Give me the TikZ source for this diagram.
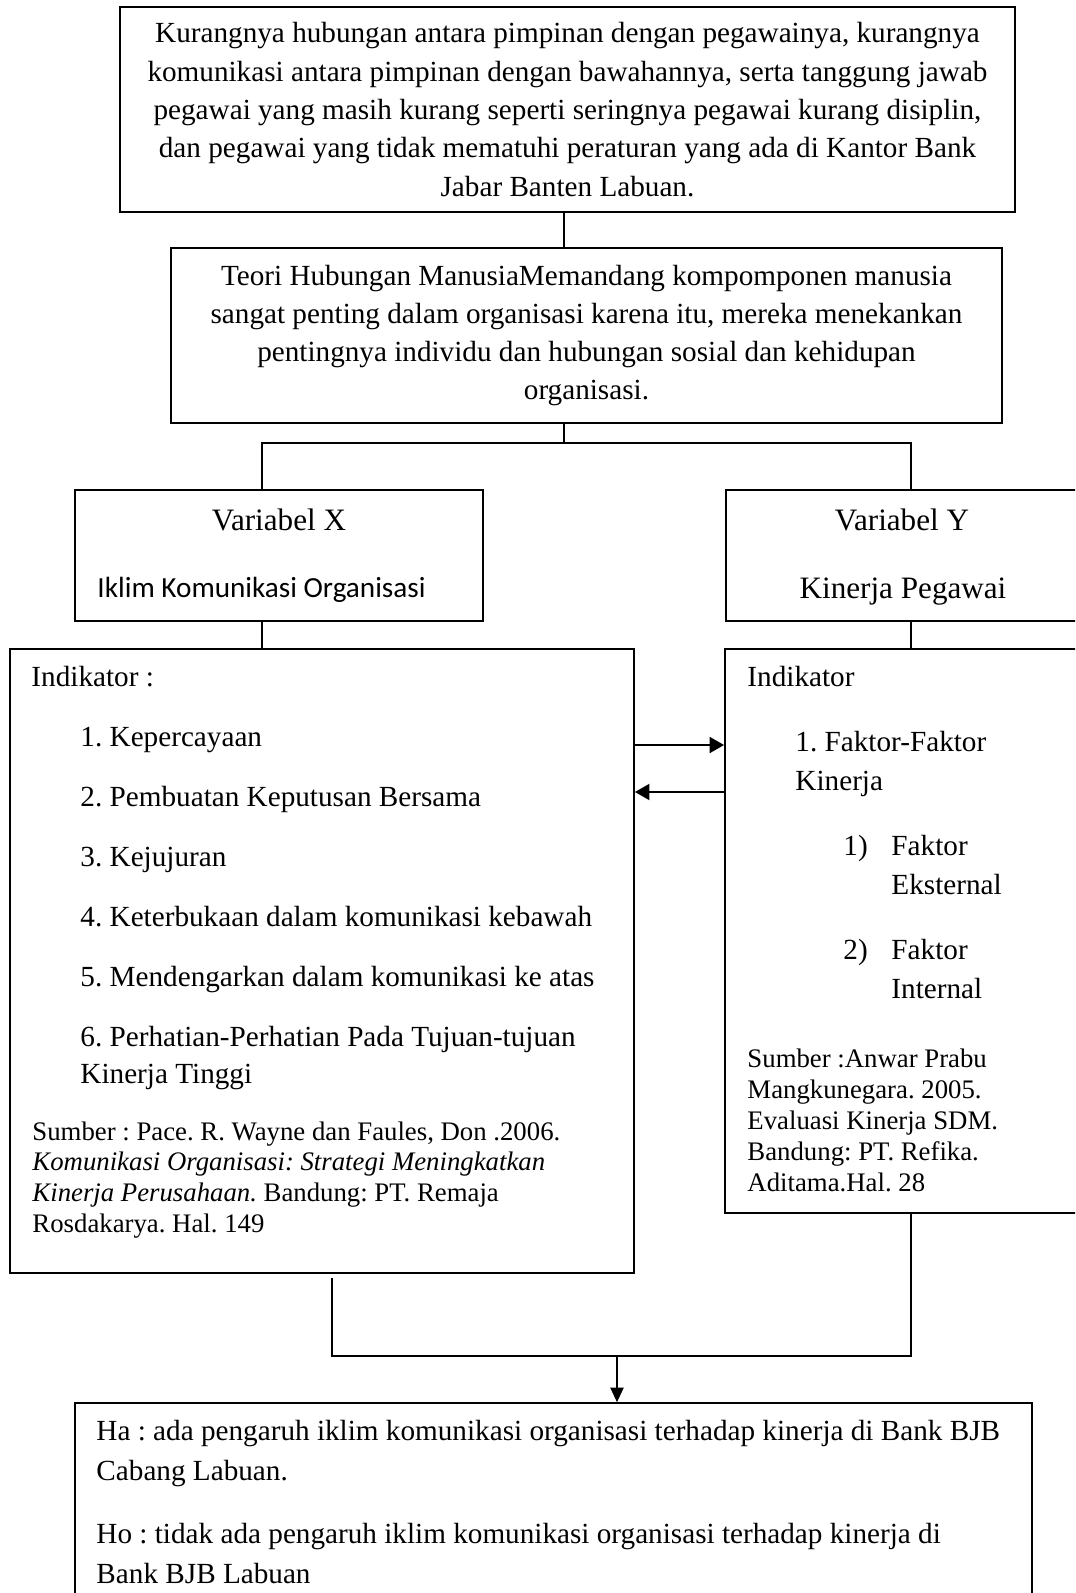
\documentclass[tikz,border=0pt]{standalone}
\usepackage{fontspec}
\setmainfont{Liberation Serif}
\newfontfamily\calibrifont{Carlito}
\frenchspacing
\usetikzlibrary{positioning,arrows.meta}
\newcommand{\pix}[1]{#1*0.411pt}
\tikzstyle{kotak} = [draw, rectangle, line width=0.7pt, inner sep=0pt]
\tikzstyle{garis} = [draw, line width=0.5pt]
\tikzstyle{panah} = [draw, line width=1.1pt, -{Triangle[length=6pt,width=6.5pt]}]
\tikzstyle{teks} = [anchor=base west, inner sep=0pt, font=\fontsize{12}{14}\selectfont]
\tikzstyle{sumber} = [teks, font=\fontsize{11}{13}\selectfont]
\tikzstyle{judul} = [anchor=base, inner sep=0pt, font=\fontsize{12.8}{15}\selectfont]

\begin{document}
\begin{tikzpicture}[x=0.411pt, y=-0.411pt]
  \useasboundingbox (0,0) rectangle (1075,1593);
  \clip (0,0) rectangle (1075,1593);

  % kotak atas
  \node[kotak, minimum width=\pix{895}, minimum height=\pix{205}, align=center,
        font=\fontsize{12}{15.74}\selectfont] (masalah) at (567.5,109.5)
        {Kurangnya hubungan antara pimpinan dengan pegawainya, kurangnya\\
         komunikasi antara pimpinan dengan bawahannya, serta tanggung jawab\\
         pegawai yang masih kurang seperti seringnya pegawai kurang disiplin,\\
         dan pegawai yang tidak mematuhi peraturan yang ada di Kantor Bank\\
         Jabar Banten Labuan.};
  \node[kotak, minimum width=\pix{831}, minimum height=\pix{175}, align=center,
        font=\fontsize{12}{15.74}\selectfont] (teori) at (586.5,335.5)
        {Teori Hubungan ManusiaMemandang kompomponen manusia\\
         sangat penting dalam organisasi karena itu, mereka menekankan\\
         pentingnya individu dan hubungan sosial dan kehidupan\\
         organisasi.};

  % variabel
  \node[kotak, minimum width=\pix{408}, minimum height=\pix{131}] (varx) at (279,555.5) {};
  \node[kotak, minimum width=\pix{354}, minimum height=\pix{131}] (vary) at (903,555.5) {};
  \node[judul] (varxjudul) at (279,530) {Variabel X};
  \node[teks, font=\calibrifont\fontsize{12}{14}\selectfont] (varxnama) at (97,597) {Iklim Komunikasi Organisasi};
  \node[judul] (varyjudul) at (902,530) {Variabel Y};
  \node[judul] (varynama) at (903,598) {Kinerja Pegawai};

  % indikator
  \node[kotak, minimum width=\pix{624}, minimum height=\pix{624}] (indx) at (322,961) {};
  \node[kotak, minimum width=\pix{355}, minimum height=\pix{564}] (indy) at (902.5,931) {};

  \node[teks] (indxjudul) at (31,686) {Indikator :};
  \foreach \i/\isi in {1/Kepercayaan, 2/Pembuatan Keputusan Bersama, 3/Kejujuran,
                       4/Keterbukaan dalam komunikasi kebawah,
                       5/Mendengarkan dalam komunikasi ke atas,
                       6/Perhatian-Perhatian Pada Tujuan-tujuan}
    \node[teks] (butirx\i) at (80,{746+60*(\i-1)}) {\i. \isi};
  \node[teks] (butirx6b) at (80,1083) {Kinerja Tinggi};
  \node[sumber] (srcx1) at (32,1140) {Sumber : Pace. R. Wayne dan Faules, Don .2006.};
  \node[sumber] (srcx2) at (32,1170.7) {\textit{Komunikasi Organisasi: Strategi Meningkatkan}};
  \node[sumber] (srcx3) at (32,1201.4) {\textit{Kinerja Perusahaan.} Bandung: PT. Remaja};
  \node[sumber] (srcx4) at (32,1232) {Rosdakarya. Hal. 149};

  \node[teks] (indyjudul) at (747,686) {Indikator};
  \node[teks] (butiry1) at (795,751) {1. Faktor-Faktor};
  \node[teks] (butiry1b) at (795,790) {Kinerja};
  \node[teks] (nomor1) at (843,855) {1)};
  \node[teks] (faktor1) at (891,855) {Faktor};
  \node[teks] (faktor1b) at (891,894) {Eksternal};
  \node[teks] (nomor2) at (843,959) {2)};
  \node[teks] (faktor2) at (891,959) {Faktor};
  \node[teks] (faktor2b) at (891,998) {Internal};
  \foreach \k/\isi in {0/Sumber :Anwar Prabu, 1/Mangkunegara. 2005., 2/Evaluasi Kinerja SDM.,
                       3/Bandung: PT. Refika., 4/Aditama.Hal. 28}
    \node[sumber] (srcy\k) at (747,{1067+31*\k}) {\isi};

  % hipotesis
  \node[kotak, minimum width=\pix{957}, minimum height=\pix{237}] (hipotesis) at (553.5,1521.5) {};
  \node[teks] (ha) at (96,1440) {Ha : ada pengaruh iklim komunikasi organisasi terhadap kinerja di Bank BJB};
  \node[teks] (hab) at (96,1480) {Cabang Labuan.};
  \node[teks] (ho) at (96,1543) {Ho : tidak ada pengaruh iklim komunikasi organisasi terhadap kinerja di};
  \node[teks] (hob) at (96,1583) {Bank BJB Labuan};

  % garis penghubung
  \coordinate (cabang) at (564,443);
  \coordinate (kiri) at (262,443);
  \coordinate (kanan) at (911,443);
  \coordinate (ka) at (0,745);
  \coordinate (kb) at (0,792);
  \coordinate (awalx) at (332,1278);
  \coordinate (bawahx) at (332,1356);
  \coordinate (bawahy) at (911,1356);
  \coordinate (gabung) at (617,1356);

  \draw[garis] (cabang |- masalah.south) -- (cabang |- teori.north);
  \draw[garis] (cabang |- teori.south) -- (cabang);
  \draw[garis] (kiri |- varx.north) -- (kiri) -- (kanan) -- (kanan |- vary.north);
  \draw[garis] (kiri |- varx.south) -- (kiri |- indx.north);
  \draw[garis] (kanan |- vary.south) -- (kanan |- indy.north);
  \draw[panah] (indx.east |- ka) -- (indy.west |- ka);
  \draw[panah] (indy.west |- kb) -- (indx.east |- kb);
  \draw[garis] (awalx) -- (bawahx) -- (bawahy) -- (bawahy |- indy.south);
  \draw[garis, -{Triangle[length=6pt,width=5.5pt]}] (gabung) -- (gabung |- hipotesis.north);
\end{tikzpicture}
\end{document}
